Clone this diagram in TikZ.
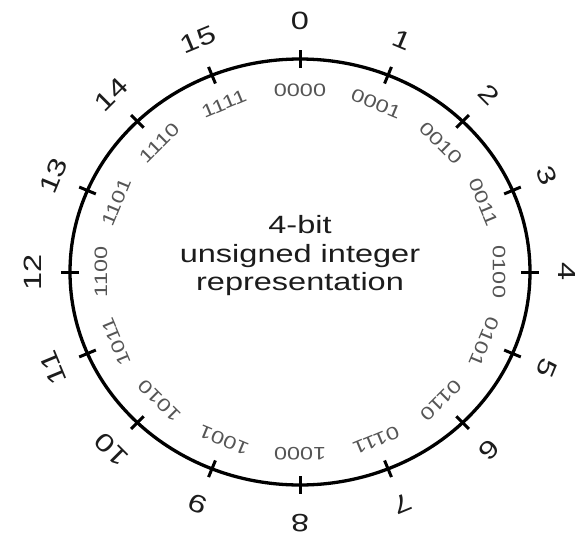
\documentclass[tikz,border=0pt]{standalone}
\usepackage{fontspec}
\setmainfont{Liberation Sans}[FakeStretch=1.3]
\definecolor{numcol}{HTML}{1C1C1C}
\definecolor{bincol}{HTML}{555555}
\begin{document}
\begin{tikzpicture}[x=1pt,y=-1pt,
  ring/.style={line width=3.3pt,black},
  tickmark/.style={line width=3pt,black},
  numlabel/.style={inner sep=0pt,text=numcol,font=\fontsize{25}{29}\selectfont},
  binlabel/.style={inner sep=0pt,text=bincol,font=\fontsize{18}{21}\selectfont},
  centertext/.style={inner sep=0pt,anchor=base,text=numcol,font=\fontsize{25}{29}\selectfont}]
\useasboundingbox (0,0) rectangle (575,538);
\coordinate (c) at (300,272);
\draw[ring] (c) ellipse [x radius=230, y radius=213];
\foreach \k/\b in {0/0000,1/0001,2/0010,3/0011,4/0100,5/0101,6/0110,7/0111,8/1000,9/1001,10/1010,11/1011,12/1100,13/1101,14/1110,15/1111}{
  \pgfmathsetmacro{\t}{22.5*\k}
  \coordinate (tin\k) at ({300+221*sin(\t)},{272-204*cos(\t)});
  \coordinate (tout\k) at ({300+239*sin(\t)},{272-222*cos(\t)});
  \draw[tickmark] (tin\k) -- (tout\k);
  \node[numlabel,rotate=-\t] (n\k) at ({300+267*sin(\t)},{272-251*cos(\t)}) {\k};
  \node[binlabel,rotate=-\t] (b\k) at ({300+199*sin(\t)},{272-182*cos(\t)}) {\b};
}
\node[centertext] (l1) at (300,233) {4-bit};
\node[centertext] (l2) at (300,262) {unsigned integer};
\node[centertext] (l3) at (300,290) {representation};
\end{tikzpicture}
\end{document}
